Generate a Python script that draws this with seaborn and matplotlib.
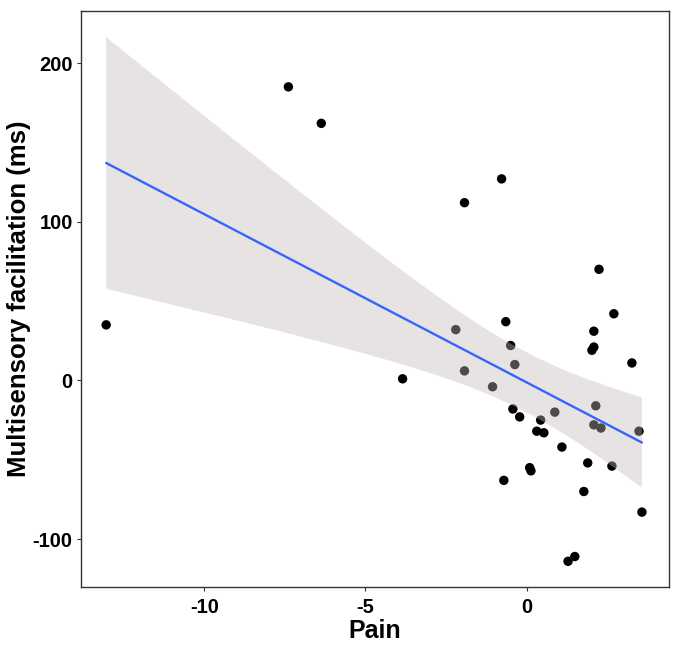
import numpy as np
import pandas as pd
import matplotlib
matplotlib.use("Agg")
import matplotlib.pyplot as plt
import seaborn as sns

pain = [-13.04, -7.39, -6.37, -3.85, -2.20, -1.93, -1.93, -1.06, -0.78, -0.71,
        -0.65, -0.50, -0.43, -0.37, -0.22, 0.09, 0.13, 0.31, 0.43, 0.53,
        0.87, 1.09, 1.28, 1.49, 1.77, 1.89, 2.08, 2.30, 2.14, 2.64,
        3.48, 3.57, 3.26, 2.02, 2.08, 2.08, 2.70, 2.24]
facilitation = [35, 185, 162, 1, 32, 6, 112, -4, 127, -63,
                37, 22, -18, 10, -23, -55, -57, -32, -25, -33,
                -20, -42, -114, -111, -70, -52, -28, -30, -16, -54,
                -32, -83, 11, 19, 21, 31, 42, 70]
x_ticks = [-10, -5, 0]
y_ticks = [-100, 0, 100, 200]

df = pd.DataFrame({"Pain": pain, "Multisensory facilitation (ms)": facilitation})

sns.set_style("white")
plt.rcParams['font.family'] = ['Liberation Sans', 'DejaVu Sans']

fig = plt.figure(figsize=(6.8, 6.5), dpi=100)
ax = fig.add_axes([81/680, 63/650, 588/680, 576/650])

sns.scatterplot(data=df, x="Pain", y="Multisensory facilitation (ms)", ax=ax,
                color="black", s=46, edgecolor="none", linewidth=0, zorder=1)

# linear fit line (seaborn)
sns.regplot(data=df, x="Pain", y="Multisensory facilitation (ms)", ax=ax,
            scatter=False, ci=None, truncate=True,
            line_kws=dict(color="#3366FF", linewidth=1.7, zorder=3))

# analytic 95% confidence band of the fitted mean (as in ggplot geom_smooth)
xa = np.asarray(pain, float)
ya = np.asarray(facilitation, float)
n = len(xa)
slope, intercept = np.polyfit(xa, ya, 1)
resid = ya - (intercept + slope * xa)
s_err = np.sqrt(np.sum(resid ** 2) / (n - 2))
sxx = np.sum((xa - xa.mean()) ** 2)
t_crit = 2.028  # Student t 0.975 quantile, df = n - 2 = 36
grid = np.linspace(xa.min(), xa.max(), 200)
fit = intercept + slope * grid
half = t_crit * s_err * np.sqrt(1.0 / n + (grid - xa.mean()) ** 2 / sxx)
ax.fill_between(grid, fit - half, fit + half, facecolor=(0.77, 0.73, 0.73),
                alpha=0.4, edgecolor="none", zorder=2)

ax.set_xlim(-13.82, 4.41)
ax.set_ylim(-130.2, 232.8)
ax.set_xticks(x_ticks)
ax.set_yticks(y_ticks)
ax.set_xticklabels([str(t) for t in x_ticks])
ax.set_yticklabels([str(t) for t in y_ticks])

ax.tick_params(axis="both", which="both", direction="out", length=3, width=0.8,
               color="#333333", labelsize=14.5, left=True, bottom=True)
ax.tick_params(axis="x", pad=5)
ax.tick_params(axis="y", pad=3)
for lab in ax.get_xticklabels() + ax.get_yticklabels():
    lab.set_fontweight("bold")
    lab.set_color("black")

ax.set_xlabel("Pain", fontsize=18, fontweight="bold", labelpad=1, color="black")
ax.set_ylabel("Multisensory facilitation (ms)", fontsize=18.5, fontweight="bold",
              labelpad=1, color="black")

for sp in ax.spines.values():
    sp.set_visible(True)
    sp.set_color("#333333")
    sp.set_linewidth(1.0)

fig.savefig("out.png", dpi=100)
